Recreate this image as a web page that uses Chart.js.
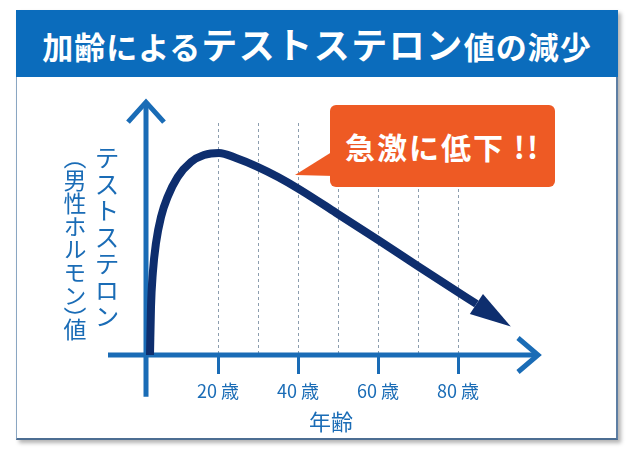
<!DOCTYPE html>
<html lang="ja">
<head>
<meta charset="utf-8">
<script src="https://cdn.jsdelivr.net/npm/chart.js@4.4.1/dist/chart.umd.min.js"></script>
<style>
html,body{margin:0;padding:0;background:#fff;width:639px;height:465px;overflow:hidden;font-family:"Noto Sans CJK JP",sans-serif;}
#frame{position:absolute;left:16px;top:10px;width:602px;height:430px;box-sizing:border-box;border:1px solid #8aa6c2;border-bottom:2px solid #4c6d92;border-right:2px solid #5d7ea3;background:#fff;box-shadow:3px 3px 4px rgba(0,0,0,0.3);}
#band{position:absolute;left:16px;top:10px;width:602px;height:67px;background:#0b6cbc;color:#fff;font-weight:700;line-height:67px;text-align:center;white-space:nowrap;}
#band .s{font-size:31px;letter-spacing:1px;}
#band .l{font-size:36px;letter-spacing:1.5px;}
#wrap{position:absolute;left:0;top:0;width:639px;height:465px;}
.ylab{position:absolute;writing-mode:vertical-rl;color:#1a6cb6;white-space:nowrap;}
#ylab1{left:94px;top:145px;font-size:25px;line-height:26px;letter-spacing:1.5px;}
#ylab2{left:63px;top:157px;font-size:23px;line-height:24px;font-feature-settings:"vhal";}
#tail{position:absolute;left:290px;top:145px;width:45px;height:35px;background:#ee5a24;clip-path:polygon(5px 30px,45px 5px,45px 31px);}
#callout{position:absolute;left:330px;top:105px;width:225px;height:82px;border-radius:6px;background:#ee5a24;color:#fff;font-weight:700;font-size:30px;letter-spacing:2px;display:flex;align-items:center;justify-content:center;white-space:nowrap;}
</style>
</head>
<body>
<div id="frame"></div>
<div id="band"><span class="s">加齢による</span><span class="l">テストステロン</span><span class="s">値の減少</span></div>
<div id="wrap"><canvas id="c"></canvas></div>
<div class="ylab" id="ylab1">テストステロン</div>
<div class="ylab" id="ylab2">（男性ホルモン）値</div>
<div id="tail"></div>
<div id="callout">急激に低下 !!</div>
<script>
// ---- data ----
const AGES   = [3, 3.25, 3.7, 4.5, 5.75, 7.4, 9.9, 13.25, 16.5, 20.25, 24.5, 29.75, 35, 40.25, 49.5, 60, 70.25, 80, 84.6, 93.2];
const LEVELS = [0, 20.7, 35.3, 48.3, 59.5, 68.1, 76.7, 83.2, 86.2, 87.1, 84.9, 81.2, 76.7, 71.5, 61.3, 49.6, 38.0, 27.1, 22.0, 12.3];
const GRID_AGES = [20, 30, 40, 50, 60, 70, 80];
const LABEL_AGES = [20, 40, 60, 80];
const TICK_SUFFIX = ' 歳';
const X_TITLE = '年齢';

// ---- axis extents (in data units) ----
const X_MIN = -3.5, X_MAX = 100;
const Y_MIN = 0, Y_MAX = 100;
const Y_AXIS_AT_AGE = 2;
const X_AXIS_FROM = -7.5, X_AXIS_TO = 100;
const Y_AXIS_FROM = -18, Y_AXIS_TO = 109;

const BLUE = '#1a6cb6';
const NAVY = '#0e2e6e';
const GRID = 'rgba(120,140,160,0.85)';
const FONT = '"Noto Sans CJK JP", sans-serif';

const axesPlugin = {
  id: 'axesArrows',
  beforeDatasetsDraw(chart) {
    const {ctx, scales: {x, y}} = chart;
    const ax = x.getPixelForValue(Y_AXIS_AT_AGE);
    const ay = y.getPixelForValue(0);
    ctx.save();
    ctx.strokeStyle = BLUE;
    ctx.lineWidth = 5;
    ctx.lineCap = 'butt';
    ctx.lineJoin = 'miter';
    const yTop = y.getPixelForValue(Y_AXIS_TO), yBot = y.getPixelForValue(Y_AXIS_FROM);
    ctx.beginPath(); ctx.moveTo(ax, yBot); ctx.lineTo(ax, yTop + 2); ctx.stroke();
    ctx.beginPath(); ctx.moveTo(ax - 18, yTop + 20); ctx.lineTo(ax, yTop); ctx.lineTo(ax + 18, yTop + 20); ctx.stroke();
    const xL = x.getPixelForValue(X_AXIS_FROM), xR = x.getPixelForValue(X_AXIS_TO);
    ctx.beginPath(); ctx.moveTo(xL, ay); ctx.lineTo(xR - 2, ay); ctx.stroke();
    ctx.beginPath(); ctx.moveTo(xR - 20, ay - 17); ctx.lineTo(xR, ay); ctx.lineTo(xR - 20, ay + 17); ctx.stroke();
    ctx.restore();
  },
  afterDatasetsDraw(chart) {
    const pts = chart.getDatasetMeta(0).data;
    const tip = pts[pts.length - 1], base = pts[pts.length - 2];
    const dx = tip.x - base.x, dy = tip.y - base.y;
    const L = Math.hypot(dx, dy);
    const nx = -dy / L, ny = dx / L;
    const hw = 12;
    const {ctx} = chart;
    ctx.save();
    ctx.fillStyle = NAVY;
    ctx.beginPath();
    ctx.moveTo(tip.x, tip.y);
    ctx.lineTo(base.x + nx * hw, base.y + ny * hw);
    ctx.lineTo(base.x - nx * hw, base.y - ny * hw);
    ctx.closePath();
    ctx.fill();
    ctx.restore();
  }
};

Chart.defaults.font.family = FONT;

new Chart(document.getElementById('c'), {
  type: 'line',
  data: {
    datasets: [{
      data: AGES.map((a, i) => ({x: a, y: LEVELS[i]})),
      borderColor: NAVY,
      borderWidth: 8,
      pointRadius: 0,
      fill: false,
      cubicInterpolationMode: 'monotone',
      clip: false,
      segment: {
        borderColor: c => c.p1DataIndex === AGES.length - 1 ? 'rgba(0,0,0,0)' : NAVY
      }
    }]
  },
  options: {
    responsive: true,
    maintainAspectRatio: false,
    animation: false,
    events: [],
    layout: {padding: {left: 124, right: 101, top: 123, bottom: 0}},
    plugins: {legend: {display: false}, tooltip: {enabled: false}, title: {display: false}},
    scales: {
      x: {
        type: 'linear',
        position: 'bottom',
        min: X_MIN, max: X_MAX,
        afterBuildTicks: s => { s.ticks = GRID_AGES.map(v => ({value: v})); },
        afterFit: s => { s.height = 110; },
        grid: {
          display: true,
          drawOnChartArea: true,
          drawTicks: true,
          color: GRID,
          lineWidth: 1,
          tickLength: 19,
          tickWidth: 3,
          tickBorderDash: [],
          tickColor: c => (c.tick && LABEL_AGES.includes(c.tick.value)) ? BLUE : 'rgba(0,0,0,0)'
        },
        border: {display: false, dash: [3, 3]},
        ticks: {
          padding: 6,
          autoSkip: false,
          maxRotation: 0, minRotation: 0,
          color: BLUE,
          font: {size: 18, family: FONT},
          callback: v => LABEL_AGES.includes(v) ? v + TICK_SUFFIX : ''
        },
        title: {
          display: true,
          text: X_TITLE,
          color: BLUE,
          font: {size: 22, family: FONT},
          padding: {top: 0, bottom: 30}
        }
      },
      y: {
        type: 'linear',
        display: false,
        min: Y_MIN, max: Y_MAX
      }
    }
  },
  plugins: [axesPlugin]
});
</script>
</body>
</html>
